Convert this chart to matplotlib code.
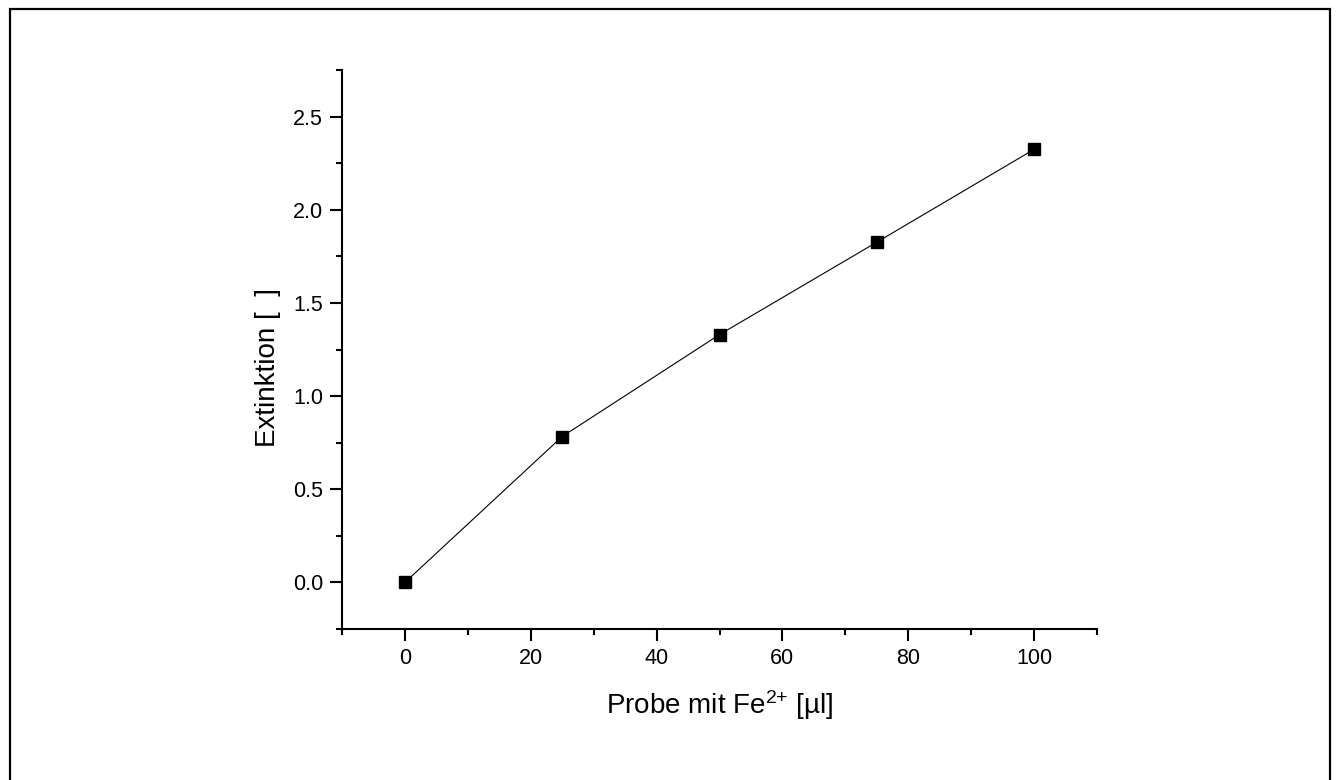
import matplotlib
matplotlib.use("Agg")
import matplotlib.pyplot as plt
from matplotlib.patches import Rectangle
from matplotlib.ticker import MultipleLocator

plt.rcParams["font.family"] = ["Liberation Sans", "DejaVu Sans"]
plt.rcParams["mathtext.fontset"] = "custom"
plt.rcParams["mathtext.rm"] = "Liberation Sans"
plt.rcParams["mathtext.it"] = "Liberation Sans"

probe_ul = [0, 25, 50, 75, 100]
extinktion = [0.0, 0.783, 1.33, 1.826, 2.324]

W, H = 1337, 780
fig = plt.figure(figsize=(W / 100, H / 100), dpi=100)

# outer frame around the whole page
fig.patches.append(Rectangle((10 / W, -0.01), 1320 / W, (H - 9) / H + 0.01,
                             transform=fig.transFigure, fill=False,
                             edgecolor="black", linewidth=1.6))

ax = fig.add_axes([342 / W, (H - 629) / H, (1097 - 342) / W, (629 - 70) / H])
ax.plot(probe_ul, extinktion, color="black", linewidth=0.8,
        marker="s", markersize=8.5, markerfacecolor="black", markeredgecolor="black")

ax.set_xlim(-10, 110)
ax.set_ylim(-0.25, 2.75)
ax.xaxis.set_major_locator(MultipleLocator(20))
ax.xaxis.set_minor_locator(MultipleLocator(10))
ax.yaxis.set_major_locator(MultipleLocator(0.5))
ax.yaxis.set_minor_locator(MultipleLocator(0.25))
ax.yaxis.set_major_formatter(lambda v, p: f"{v:.1f}")

for side in ("top", "right"):
    ax.spines[side].set_visible(False)
for side in ("left", "bottom"):
    ax.spines[side].set_linewidth(1.5)

ax.tick_params(which="major", direction="out", length=8.5, width=1.5,
               labelsize=15.5, pad=5)
ax.tick_params(which="minor", direction="out", length=4.5, width=1.5)

ax.set_xlabel("Probe mit Fe$^{\\mathrm{2{+}}}$ [µl]", fontsize=20, labelpad=14)
ax.set_ylabel("Extinktion [  ]", fontsize=20)
ax.yaxis.set_label_coords(-0.081, 0.467)

fig.savefig("out.png", dpi=100)
